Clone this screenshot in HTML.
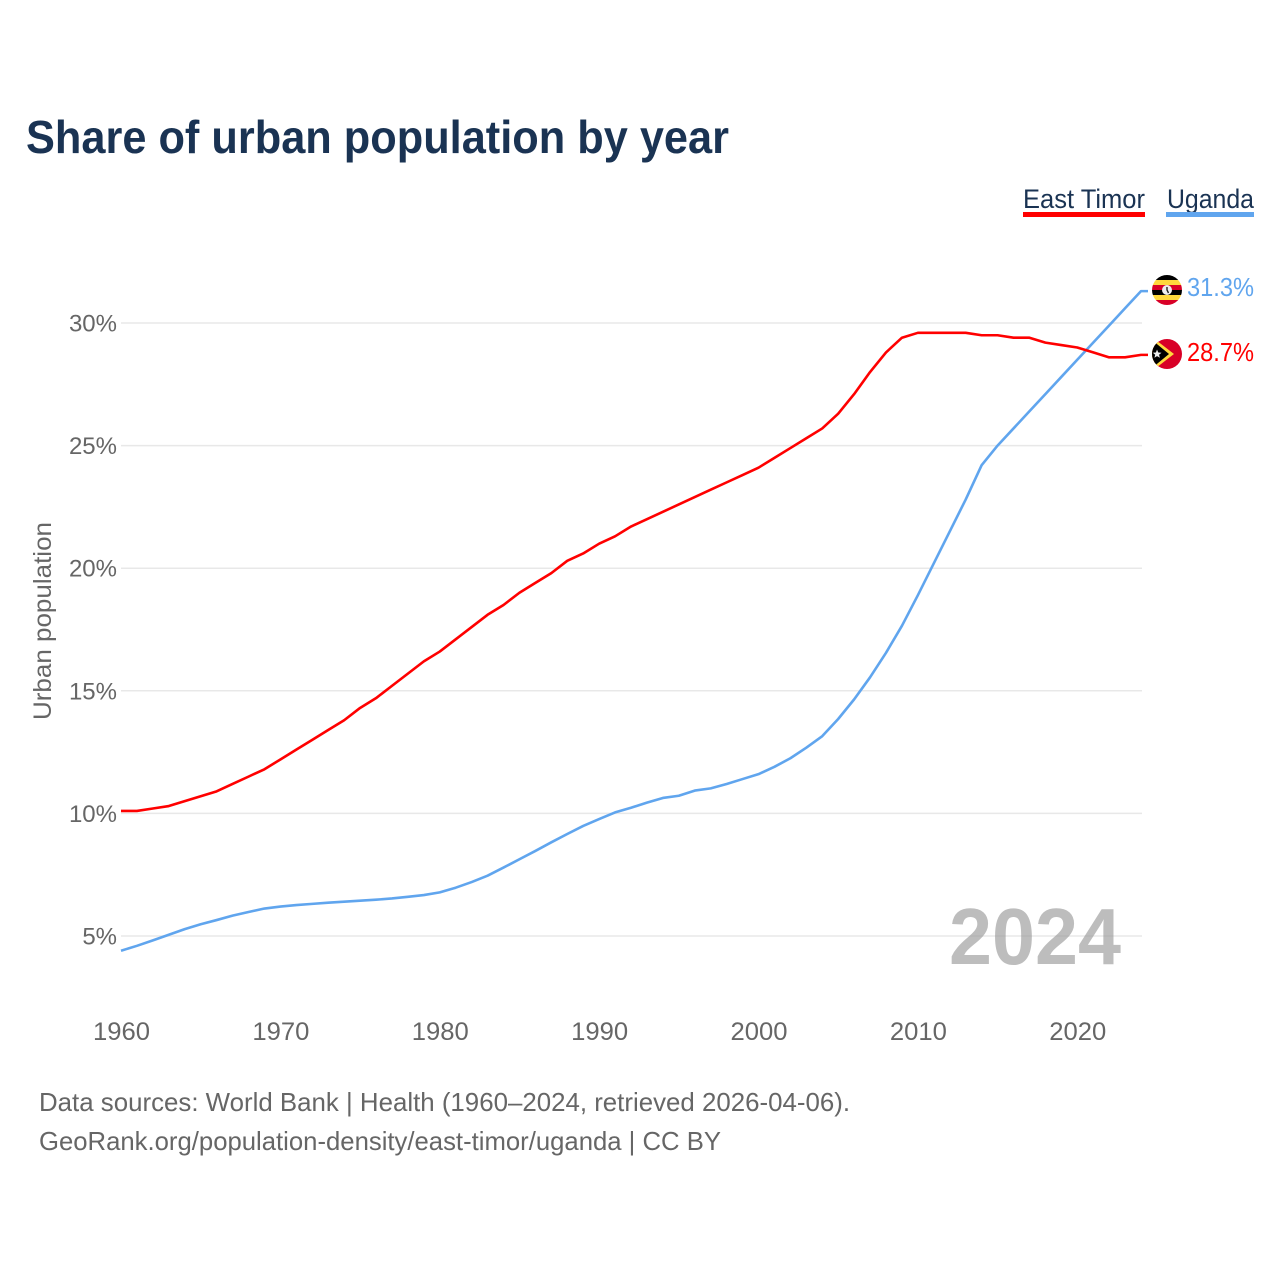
<!DOCTYPE html>
<html lang="en">
<head>
<meta charset="utf-8">
<title>Share of urban population by year</title>
<style>
html,body{margin:0;padding:0;background:#fff;}
svg{display:block;}
text{font-family:"Liberation Sans",sans-serif;}
</style>
</head>
<body>
<svg id="chart" xmlns="http://www.w3.org/2000/svg" width="1280" height="1280" viewBox="0 0 1280 1280">
  <defs>
    <clipPath id="clip-ug"><circle cx="1167" cy="290" r="15"/></clipPath>
    <clipPath id="clip-tl"><circle cx="1167" cy="354" r="15"/></clipPath>
  </defs>
  <rect width="1280" height="1280" fill="#fff"/>
  <text x="26" y="153" font-size="46" font-weight="700" fill="#1a3353" textLength="703" lengthAdjust="spacingAndGlyphs">Share of urban population by year</text>

  <g>
    <text x="1023" y="208" font-size="27" fill="#1a3353" textLength="122" lengthAdjust="spacingAndGlyphs">East Timor</text>
    <rect x="1023" y="212" width="122" height="5" fill="#ff0000"/>
  </g>
  <g>
    <text x="1167" y="208" font-size="27" fill="#1a3353" textLength="87" lengthAdjust="spacingAndGlyphs">Uganda</text>
    <rect x="1166" y="212" width="88" height="5" fill="#60a5ee"/>
  </g>

  <g id="grid"></g>
  <g id="yticks"></g>
  <g id="xticks"></g>
  <text transform="translate(51,621) rotate(-90)" text-anchor="middle" font-size="25" fill="#666" textLength="198" lengthAdjust="spacingAndGlyphs">Urban population</text>

  <text x="949" y="964" font-size="80" font-weight="700" fill="#999" fill-opacity="0.65" textLength="172" lengthAdjust="spacingAndGlyphs">2024</text>

  <g id="series"></g>

  <g clip-path="url(#clip-ug)">
    <rect x="1152" y="275" width="30" height="5" fill="#000"/>
    <rect x="1152" y="280" width="30" height="5" fill="#ffd83d"/>
    <rect x="1152" y="285" width="30" height="5" fill="#d80027"/>
    <rect x="1152" y="290" width="30" height="5" fill="#000"/>
    <rect x="1152" y="295" width="30" height="5" fill="#ffd83d"/>
    <rect x="1152" y="300" width="30" height="5" fill="#d80027"/>
    <circle cx="1167" cy="290" r="5" fill="#eee"/>
    <path d="M1167 287v3l1.5 3" stroke="#222" stroke-width="1.4" fill="none"/>
  </g>
  <g clip-path="url(#clip-tl)">
    <rect x="1152" y="339" width="30" height="30" fill="#d80027"/>
    <path d="M1152 337L1174 354L1152 371Z" fill="#ffd83d"/>
    <path d="M1152 340L1169 354L1152 368Z" fill="#000"/>
    <path d="M1157 349.5l1.3 3 3.2.2-2.5 2 .9 3.1-2.9-1.7-2.6 1.7.8-3.1-2.4-2 3.1-.2z" fill="#eee"/>
  </g>

  <text id="label-ug" x="1187" y="296" font-size="26" fill="#60a5ee" textLength="67" lengthAdjust="spacingAndGlyphs"></text>
  <text id="label-tl" x="1187" y="361" font-size="26" fill="#ff0000" textLength="67" lengthAdjust="spacingAndGlyphs"></text>

  <text x="39" y="1111" font-size="26" fill="#666" textLength="811" lengthAdjust="spacingAndGlyphs">Data sources: World Bank | Health (1960–2024, retrieved 2026-04-06).</text>
  <text x="39" y="1150" font-size="26" fill="#666" textLength="682" lengthAdjust="spacingAndGlyphs">GeoRank.org/population-density/east-timor/uganda | CC BY</text>
</svg>
<script>
const startYear = 1960;
const endYear = 2024;
const yTickValues = [5, 10, 15, 20, 25, 30];
const xTickYears = [1960, 1970, 1980, 1990, 2000, 2010, 2020];
const eastTimorValues = [10.1,10.1,10.2,10.3,10.5,10.7,10.9,11.2,11.5,11.8,12.2,12.6,13.0,13.4,13.8,14.3,14.7,15.2,15.7,16.2,16.6,17.1,17.6,18.1,18.5,19.0,19.4,19.8,20.3,20.6,21.0,21.3,21.7,22.0,22.3,22.6,22.9,23.2,23.5,23.8,24.1,24.5,24.9,25.3,25.7,26.3,27.1,28.0,28.8,29.4,29.6,29.6,29.6,29.6,29.5,29.5,29.4,29.4,29.2,29.1,29.0,28.8,28.6,28.6,28.7];
const ugandaValues = [4.4,4.6,4.82,5.05,5.28,5.48,5.65,5.83,5.98,6.12,6.2,6.26,6.31,6.36,6.4,6.44,6.48,6.53,6.6,6.67,6.78,6.97,7.2,7.46,7.79,8.13,8.47,8.82,9.16,9.49,9.77,10.04,10.23,10.44,10.63,10.72,10.93,11.02,11.2,11.4,11.6,11.9,12.25,12.68,13.15,13.85,14.65,15.55,16.55,17.65,18.9,20.2,21.5,22.8,24.2,25.0,25.7,26.4,27.1,27.8,28.5,29.2,29.9,30.6,31.3];

const SVG_NS = 'http://www.w3.org/2000/svg';
const xScale = function (year) { return 121 + (year - startYear) * (1141 - 121) / (endYear - startYear); };
const yScale = function (value) { return 936 - (value - 5) * 24.52; };

const gridGroup = document.getElementById('grid');
const yTickGroup = document.getElementById('yticks');
const xTickGroup = document.getElementById('xticks');
const seriesGroup = document.getElementById('series');

yTickValues.forEach(function (value) {
  const line = document.createElementNS(SVG_NS, 'line');
  
  
  line.setAttribute('x1', 121);
  line.setAttribute('x2', 1142);
  line.setAttribute('y1', yScale(value));
  line.setAttribute('y2', yScale(value));
  line.setAttribute('stroke', '#e8e8e8');
  line.setAttribute('stroke-width', 1.5);
  gridGroup.appendChild(line);

  const label = document.createElementNS(SVG_NS, 'text');
  
  
  label.setAttribute('x', 117);
  label.setAttribute('y', yScale(value) + 8.5);
  label.setAttribute('text-anchor', 'end');
  label.setAttribute('font-size', 24);
  label.setAttribute('fill', '#666');
  label.textContent = value + '%';
  yTickGroup.appendChild(label);
});

xTickYears.forEach(function (year) {
  const label = document.createElementNS(SVG_NS, 'text');
  
  
  label.setAttribute('x', xScale(year) + 0.5);
  label.setAttribute('y', 1040);
  label.setAttribute('text-anchor', 'middle');
  label.setAttribute('font-size', 25);
  label.setAttribute('fill', '#666');
  label.setAttribute('textLength', 57);
  label.setAttribute('lengthAdjust', 'spacingAndGlyphs');
  label.textContent = year;
  xTickGroup.appendChild(label);
});

function drawSeries(values, color, name) {
  const points = values.map(function (value, index) {
    return xScale(startYear + index).toFixed(2) + ',' + yScale(value).toFixed(2);
  });
  const lastValue = values[values.length - 1];
  points.push('1148,' + yScale(lastValue).toFixed(2));
  const path = document.createElementNS(SVG_NS, 'polyline');
  
  
  path.setAttribute('points', points.join(' '));
  path.setAttribute('fill', 'none');
  path.setAttribute('stroke', color);
  path.setAttribute('stroke-width', 2.6);
  path.setAttribute('stroke-linejoin', 'round');
  seriesGroup.appendChild(path);
}
drawSeries(ugandaValues, '#60a5ee', 'line-uganda');
drawSeries(eastTimorValues, '#ff0000', 'line-east-timor');

document.getElementById('label-ug').textContent = ugandaValues[ugandaValues.length - 1].toFixed(1) + '%';
document.getElementById('label-tl').textContent = eastTimorValues[eastTimorValues.length - 1].toFixed(1) + '%';
</script>
</body>
</html>
